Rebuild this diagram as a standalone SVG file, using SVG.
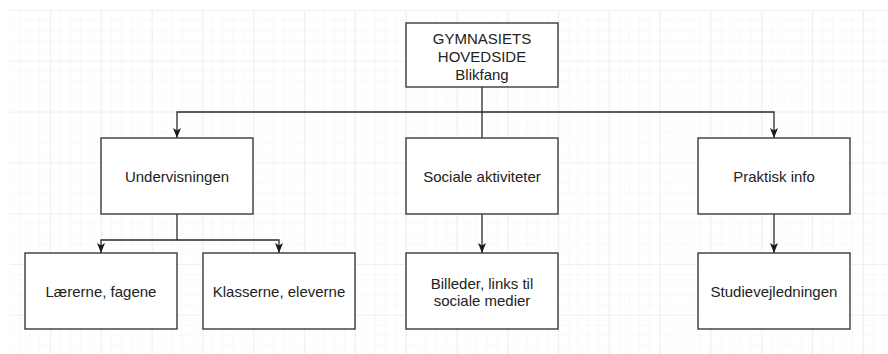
<svg xmlns="http://www.w3.org/2000/svg" width="888" height="354" viewBox="0 0 888 354">
<style>
.box{fill:#ffffff;stroke:#3a3a3a;stroke-width:1.4}
.lbl{font-family:"Liberation Sans",Arial,sans-serif;font-size:15px;fill:#222;text-anchor:middle}
.edge{fill:none;stroke:#2a2a2a;stroke-width:1.3}
</style>
<defs>
<pattern id="minor" patternUnits="userSpaceOnUse" x="-0.6" y="10" width="10.16" height="10.16">
<path d="M0 0H10.16M0 0V10.16" fill="none" stroke="#f3f3f3" stroke-width="1"/>
</pattern>
<pattern id="major" patternUnits="userSpaceOnUse" x="-0.6" y="10" width="50.8" height="50.8">
<rect width="50.8" height="50.8" fill="url(#minor)"/>
<path d="M0 0H50.8M0 0V50.8" fill="none" stroke="#e6e6e6" stroke-width="1.2"/>
</pattern>
<marker id="arr" markerUnits="userSpaceOnUse" markerWidth="12" markerHeight="10" refX="11" refY="5" orient="auto" viewBox="0 0 12 10">
<path d="M11 5 L1 1 L3.5 5 L1 9 Z" fill="#1a1a1a"/>
</marker>
</defs>
<rect width="888" height="354" fill="#ffffff"/>
<rect x="10" y="10" width="878" height="344" fill="url(#major)"/>

<g id="connectors">
<path class="edge" d="M482 87V112H177V138" marker-end="url(#arr)"/>
<path class="edge" d="M482 112H774V138" marker-end="url(#arr)"/>
<path class="edge" d="M482 112V138"/>
<path class="edge" d="M177 214V240H101V253" marker-end="url(#arr)"/>
<path class="edge" d="M177 240H279V253" marker-end="url(#arr)"/>
<path class="edge" d="M482 214V253" marker-end="url(#arr)"/>
<path class="edge" d="M774 214V253" marker-end="url(#arr)"/>
</g>

<g id="top">
<rect class="box" x="406" y="23" width="152" height="64"/>
<text class="lbl" x="482" y="44">GYMNASIETS</text>
<text class="lbl" x="482" y="62">HOVEDSIDE</text>
<text class="lbl" x="482" y="80">Blikfang</text>
</g>
<g id="undervisningen">
<rect class="box" x="101" y="138" width="152" height="76"/>
<text class="lbl" x="177" y="182">Undervisningen</text>
</g>
<g id="sociale">
<rect class="box" x="406" y="138" width="152" height="76"/>
<text class="lbl" x="482" y="182">Sociale aktiviteter</text>
</g>
<g id="praktisk">
<rect class="box" x="698" y="138" width="152" height="76"/>
<text class="lbl" x="774" y="182">Praktisk info</text>
</g>
<g id="laererne">
<rect class="box" x="25" y="253" width="152" height="76"/>
<text class="lbl" x="101" y="297">Lærerne, fagene</text>
</g>
<g id="klasserne">
<rect class="box" x="203" y="253" width="152" height="76"/>
<text class="lbl" x="279" y="297">Klasserne, eleverne</text>
</g>
<g id="billeder">
<rect class="box" x="406" y="253" width="152" height="76"/>
<text class="lbl" x="482" y="289">Billeder, links til</text>
<text class="lbl" x="482" y="306">sociale medier</text>
</g>
<g id="studie">
<rect class="box" x="698" y="253" width="152" height="76"/>
<text class="lbl" x="774" y="297">Studievejledningen</text>
</g>
</svg>
